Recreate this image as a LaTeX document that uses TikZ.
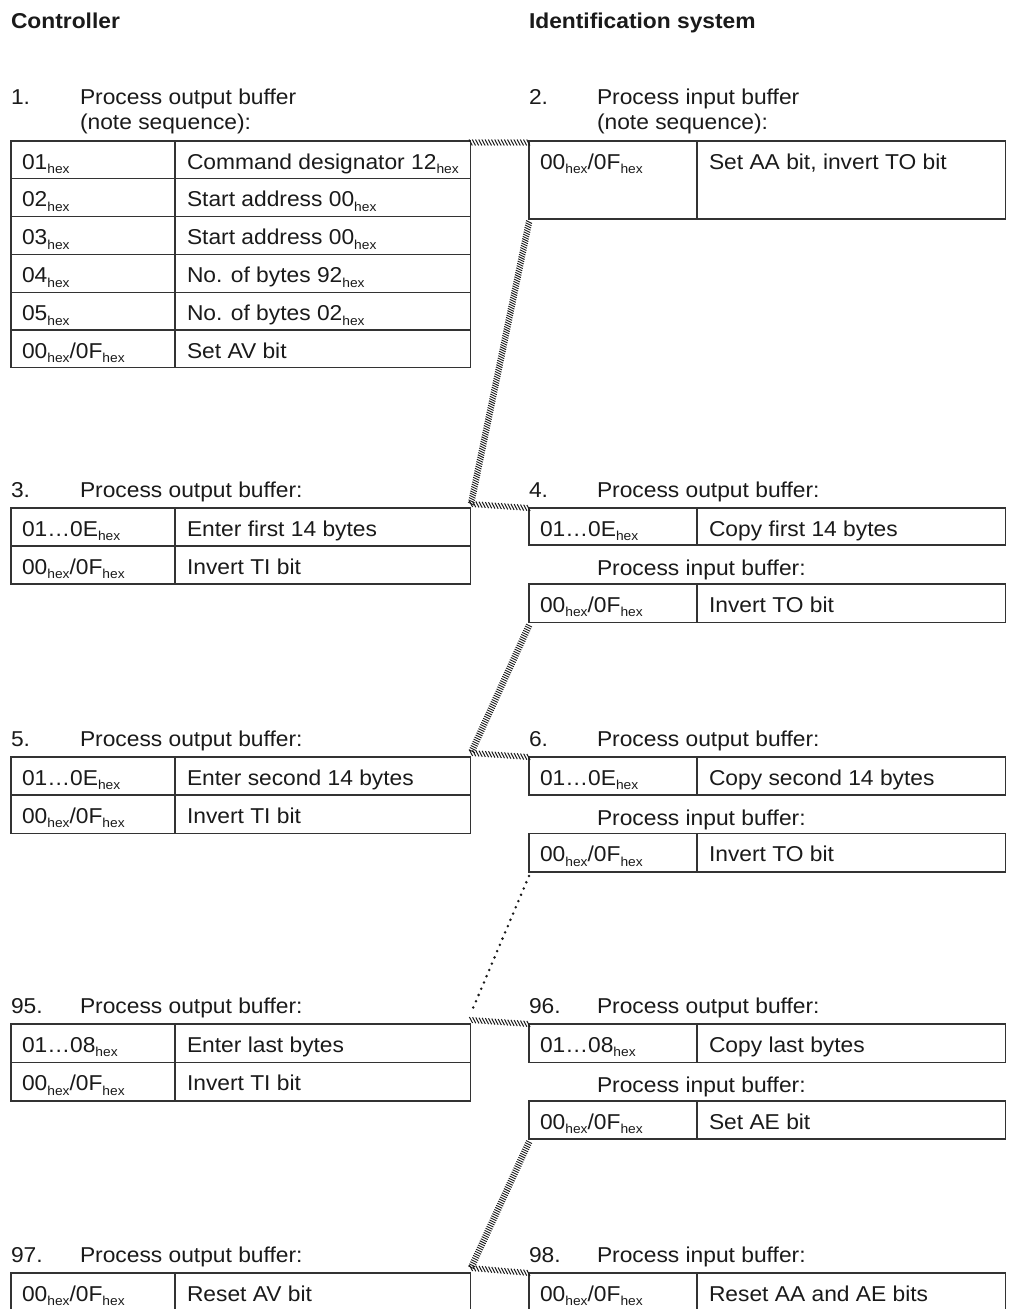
\documentclass[tikz,border=0pt]{standalone}
\usepackage{fontspec}
\setmainfont[FakeStretch=1.06]{Liberation Sans}
\usetikzlibrary{decorations.markings}
\definecolor{ink}{HTML}{1A1A1A}
\definecolor{rule}{HTML}{333333}
\newcommand{\hx}{\raisebox{-4.8pt}{\fontsize{13}{13}\selectfont hex}}
\newcommand{\Lrow}[5]{%
  \node[cell, minimum width=164pt, minimum height=#3pt] (#1a) at (11,#2) {};
  \node[cell, minimum width=295.7pt, minimum height=#3pt] (#1b) at (175,#2) {};
  \node[txt] (#1at) at ([shift={(11,28)}]#1a.north west) {#4};
  \node[txt] (#1bt) at ([shift={(12,28)}]#1b.north west) {#5};
}
\newcommand{\Rrow}[5]{%
  \node[cell, minimum width=168pt, minimum height=#3pt] (#1a) at (529,#2) {};
  \node[cell, minimum width=308.7pt, minimum height=#3pt] (#1b) at (697,#2) {};
  \node[txt] (#1at) at ([shift={(11,28)}]#1a.north west) {#4};
  \node[txt] (#1bt) at ([shift={(12,28)}]#1b.north west) {#5};
}
\begin{document}
\begin{tikzpicture}[x=1pt,y=-1pt,
  font=\fontsize{21.5}{25}\selectfont,
  txt/.style={anchor=base west, inner sep=0pt, outer sep=0pt, text=ink},
  head/.style={txt, font=\bfseries\fontsize{21.5}{25}\selectfont},
  cell/.style={draw=rule, line width=1.2pt, anchor=north west, inner sep=0pt, outer sep=0pt},
  hatchH/.style={decorate, decoration={markings,
     mark=between positions 0 and 1 step 3.2pt with {\pgftransformresetnontranslations
       \draw[ink, line width=1pt] (-1.6pt,3pt) -- (1.6pt,-3pt);}}},
  hatchD/.style={decorate, decoration={markings,
     mark=between positions 0 and 1 step 2.3pt with {\pgftransformresetnontranslations
       \draw[ink, line width=0.9pt] (-3pt,1.5pt) -- (3pt,-1.5pt);}}},
  dotline/.style={draw=ink, line width=2.8pt, line cap=round, dash pattern=on 0pt off 6.8pt}
]
\useasboundingbox (0,0) rectangle (1010,1309);

% headers
\node[head] (hc) at (11,28) {Controller};
\node[head] (hi) at (529,28) {Identification system};

% step 1
\node[txt] (n1) at (11,104) {1.};
\node[txt] (p1) at (80,104) {Process output buffer};
\node[txt] (q1) at (80,129) {(note sequence):};
\Lrow{ta}{141}{37.8}{01\hx}{Command designator 12\hx}
\Lrow{tb}{178.8}{37.8}{02\hx}{Start address 00\hx}
\Lrow{tc}{216.6}{37.8}{03\hx}{Start address 00\hx}
\Lrow{td}{254.4}{37.8}{04\hx}{No. of bytes 92\hx}
\Lrow{te}{292.2}{37.8}{05\hx}{No. of bytes 02\hx}
\Lrow{tf}{330}{37.8}{00\hx/0F\hx}{Set AV bit}

% step 2
\node[txt] (n2) at (529,104) {2.};
\node[txt] (p2) at (597,104) {Process input buffer};
\node[txt] (q2) at (597,129) {(note sequence):};
\Rrow{sa}{141}{78}{00\hx/0F\hx}{Set AA bit, invert TO bit}

% step 3
\node[txt] (n3) at (11,497) {3.};
\node[txt] (p3) at (80,497) {Process output buffer:};
\Lrow{ua}{508}{38}{01…0E\hx}{Enter first 14 bytes}
\Lrow{ub}{546}{38}{00\hx/0F\hx}{Invert TI bit}

% step 4
\node[txt] (n4) at (529,497) {4.};
\node[txt] (p4) at (597,497) {Process output buffer:};
\Rrow{va}{508}{37}{01…0E\hx}{Copy first 14 bytes}
\node[txt] (m4) at (597,575) {Process input buffer:};
\Rrow{vb}{584}{38.5}{00\hx/0F\hx}{Invert TO bit}

% step 5
\node[txt] (n5) at (11,746) {5.};
\node[txt] (p5) at (80,746) {Process output buffer:};
\Lrow{wa}{757}{38}{01…0E\hx}{Enter second 14 bytes}
\Lrow{wb}{795}{38.5}{00\hx/0F\hx}{Invert TI bit}

% step 6
\node[txt] (n6) at (529,746) {6.};
\node[txt] (p6) at (597,746) {Process output buffer:};
\Rrow{xa}{757}{38}{01…0E\hx}{Copy second 14 bytes}
\node[txt] (m6) at (597,825) {Process input buffer:};
\Rrow{xb}{833.5}{38.5}{00\hx/0F\hx}{Invert TO bit}

% step 95
\node[txt] (n95) at (11,1013) {95.};
\node[txt] (p95) at (80,1013) {Process output buffer:};
\Lrow{ya}{1024}{38.5}{01…08\hx}{Enter last bytes}
\Lrow{yb}{1062.5}{38.5}{00\hx/0F\hx}{Invert TI bit}

% step 96
\node[txt] (n96) at (529,1013) {96.};
\node[txt] (p96) at (597,1013) {Process output buffer:};
\Rrow{za}{1024}{38.5}{01…08\hx}{Copy last bytes}
\node[txt] (m96) at (597,1092.5) {Process input buffer:};
\Rrow{zb}{1101}{38}{00\hx/0F\hx}{Set AE bit}

% step 97
\node[txt] (n97) at (11,1262) {97.};
\node[txt] (p97) at (80,1262) {Process output buffer:};
\Lrow{ka}{1273}{38}{00\hx/0F\hx}{Reset AV bit}

% step 98
\node[txt] (n98) at (529,1262) {98.};
\node[txt] (p98) at (597,1262) {Process input buffer:};
\Rrow{la}{1273}{38}{00\hx/0F\hx}{Reset AA and AE bits}

% connectors
\coordinate (c1) at (471,504);
\coordinate (c2) at (471,753);
\coordinate (c3) at (471,1013);
\coordinate (c3h) at (471,1020);
\coordinate (c4) at (471,1268);

\draw[hatchH] ([yshift=-1.5pt]tab.north east) -- ([yshift=-1.5pt]saa.north west);
\draw[hatchD] ([yshift=-3pt]saa.south west) -- (c1);
\draw[hatchH] (c1) -- (vaa.north west);
\draw[hatchD] ([yshift=-3pt]vba.south west) -- (c2);
\draw[hatchH] (c2) -- (xaa.north west);
\draw[dotline] ([yshift=-4pt]xba.south west) -- (c3);
\draw[hatchH] (c3h) -- (zaa.north west);
\draw[hatchD] ([yshift=-3pt]zba.south west) -- (c4);
\draw[hatchH] (c4) -- (laa.north west);
\end{tikzpicture}
\end{document}
